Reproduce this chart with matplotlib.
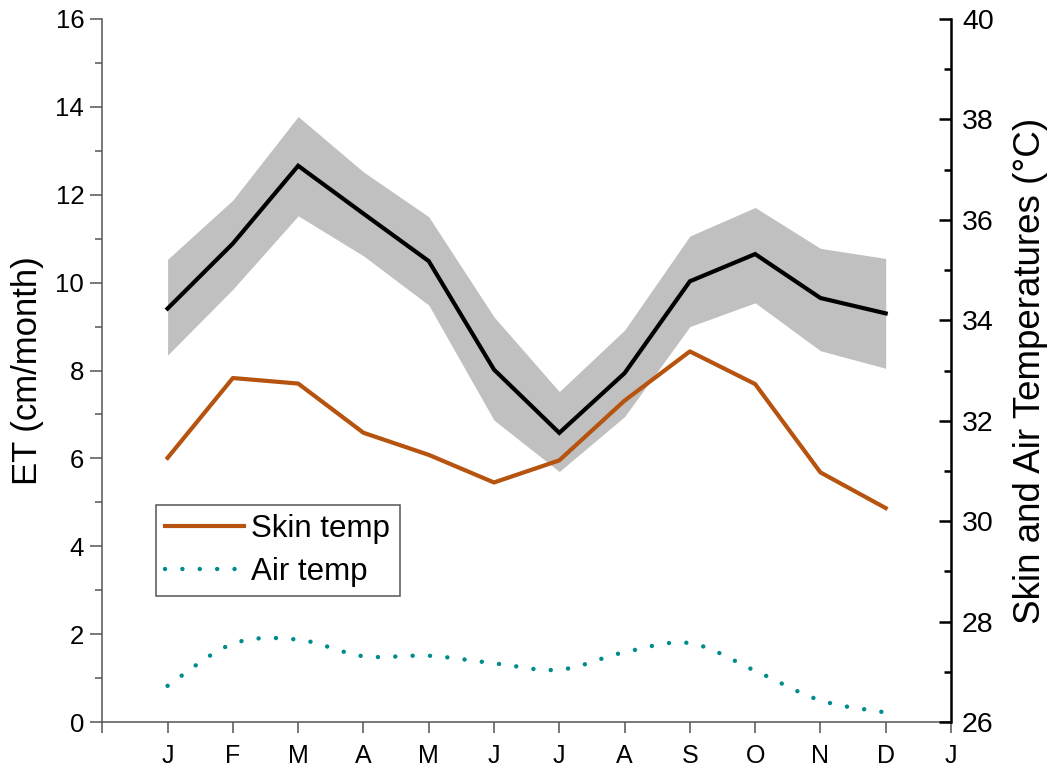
import numpy as np
import matplotlib
matplotlib.use("Agg")
import matplotlib.pyplot as plt
from matplotlib.path import Path
from matplotlib.patches import PathPatch
from matplotlib.lines import Line2D

plt.rcParams['font.family'] = ['Liberation Sans', 'DejaVu Sans']

months = np.arange(1, 13)
tick_labels = ['J', 'F', 'M', 'A', 'M', 'J', 'J', 'A', 'S', 'O', 'N', 'D', 'J']

et_mean = [9.41, 10.89, 12.66, 11.57, 10.49, 8.02, 6.58, 7.94, 10.03, 10.65, 9.65, 9.30]
et_upper = [10.53, 11.88, 13.78, 12.52, 11.50, 9.22, 7.52, 8.92, 11.06, 11.71, 10.78, 10.55]
et_lower = [8.35, 9.85, 11.52, 10.61, 9.49, 6.87, 5.70, 6.95, 9.00, 9.54, 8.45, 8.05]

skin_temp = [31.26, 32.85, 32.74, 31.76, 31.32, 30.77, 31.21, 32.40, 33.38, 32.73, 30.97, 30.26]
air_temp = [26.72, 27.56, 27.64, 27.31, 27.32, 27.17, 27.04, 27.39, 27.57, 27.02, 26.43, 26.19]

SKIN_C = '#B5530F'
AIR_C = '#008C8C'
AX_GRAY = '#555555'

fig = plt.figure(figsize=(10.54, 7.70), dpi=100)
ax = fig.add_axes([102.3/1054, (770-722)/770, (951-102.3)/1054, (722-19)/770])
ax2 = ax.twinx()

# ET band and mean
ax.fill_between(months, et_lower, et_upper, color='#C0C0C0', lw=0, zorder=1)
ax.plot(months, et_mean, color='black', lw=3.0, zorder=3, solid_joinstyle='miter')

ax.set_xlim(0, 13)
ax.set_ylim(0, 16)
ax.set_xticks(np.arange(0, 14))
ax.set_xticklabels([''] + tick_labels)
ax.set_yticks(np.arange(0, 17, 2))
ax.set_yticks(np.arange(0, 17, 1), minor=True)
ax.set_ylabel('ET (cm/month)', fontsize=25, labelpad=8)

ax.tick_params(axis='y', which='major', direction='out', length=9, width=1.1,
               color=AX_GRAY, labelsize=18.5, pad=4)
ax.tick_params(axis='y', which='minor', direction='out', length=5, width=1.1, color=AX_GRAY)
ax.tick_params(axis='x', which='major', direction='out', length=8, width=1.1,
               color=AX_GRAY, labelsize=18, pad=8)
ax.spines['top'].set_visible(False)
ax.spines['left'].set_color(AX_GRAY)
ax.spines['left'].set_linewidth(1.1)
ax.spines['bottom'].set_color(AX_GRAY)
ax.spines['bottom'].set_linewidth(1.1)
ax.spines['right'].set_visible(False)

# Right axis: temperatures
ax2.set_ylim(26, 40)
ax2.set_yticks(np.arange(26, 41, 2))
ax2.set_yticks(np.arange(26, 41, 1), minor=True)
ax2.tick_params(axis='y', which='major', direction='in', length=9, width=1.8,
                color='black', labelsize=20.5, pad=8)
ax2.tick_params(axis='y', which='minor', direction='in', length=5, width=1.8, color='black')
ax2.spines['top'].set_visible(False)
ax2.spines['left'].set_visible(False)
ax2.spines['bottom'].set_visible(False)
ax2.spines['right'].set_linewidth(1.8)
ax2.spines['right'].set_color('black')
ax2.set_ylabel('Skin and Air Temperatures (°C)', fontsize=26.5, labelpad=14)

ax2.plot(months, skin_temp, color=SKIN_C, lw=3.0, zorder=3)

# Smooth air temperature curve as cubic Bezier path (Catmull-Rom tangents)
xs = np.asarray(months, float)
ys = np.asarray(air_temp, float)
n = len(xs)
verts = [(xs[0], ys[0])]
codes = [Path.MOVETO]
for i in range(n - 1):
    p0 = (xs[max(i - 1, 0)], ys[max(i - 1, 0)])
    p1 = (xs[i], ys[i])
    p2 = (xs[i + 1], ys[i + 1])
    p3 = (xs[min(i + 2, n - 1)], ys[min(i + 2, n - 1)])
    c1 = (p1[0] + (p2[0] - p0[0]) / 6, p1[1] + (p2[1] - p0[1]) / 6)
    c2 = (p2[0] - (p3[0] - p1[0]) / 6, p2[1] - (p3[1] - p1[1]) / 6)
    verts += [c1, c2, p2]
    codes += [Path.CURVE4, Path.CURVE4, Path.CURVE4]
air_patch = PathPatch(Path(verts, codes), fill=False, edgecolor=AIR_C, lw=3.2,
                      linestyle=(0, (0.01, 3.9)), capstyle='round', zorder=3)
ax2.add_patch(air_patch)

handles = [Line2D([], [], color=SKIN_C, lw=3.0),
           Line2D([], [], color=AIR_C, lw=3.2, linestyle=(0, (0.01, 3.9)),
                  dash_capstyle='round')]
leg = ax2.legend(handles, ['Skin temp', 'Air temp'], loc='upper left',
                 bbox_to_anchor=((156 - 102.3) / 848.7, (722 - 505) / 703),
                 fontsize=22.5, frameon=True, fancybox=False, framealpha=1,
                 edgecolor=AX_GRAY, borderpad=0.3, labelspacing=0.4,
                 handlelength=2.5, handletextpad=0.25, borderaxespad=0)
leg.get_frame().set_linewidth(1.1)

fig.savefig('out.png', dpi=100)
